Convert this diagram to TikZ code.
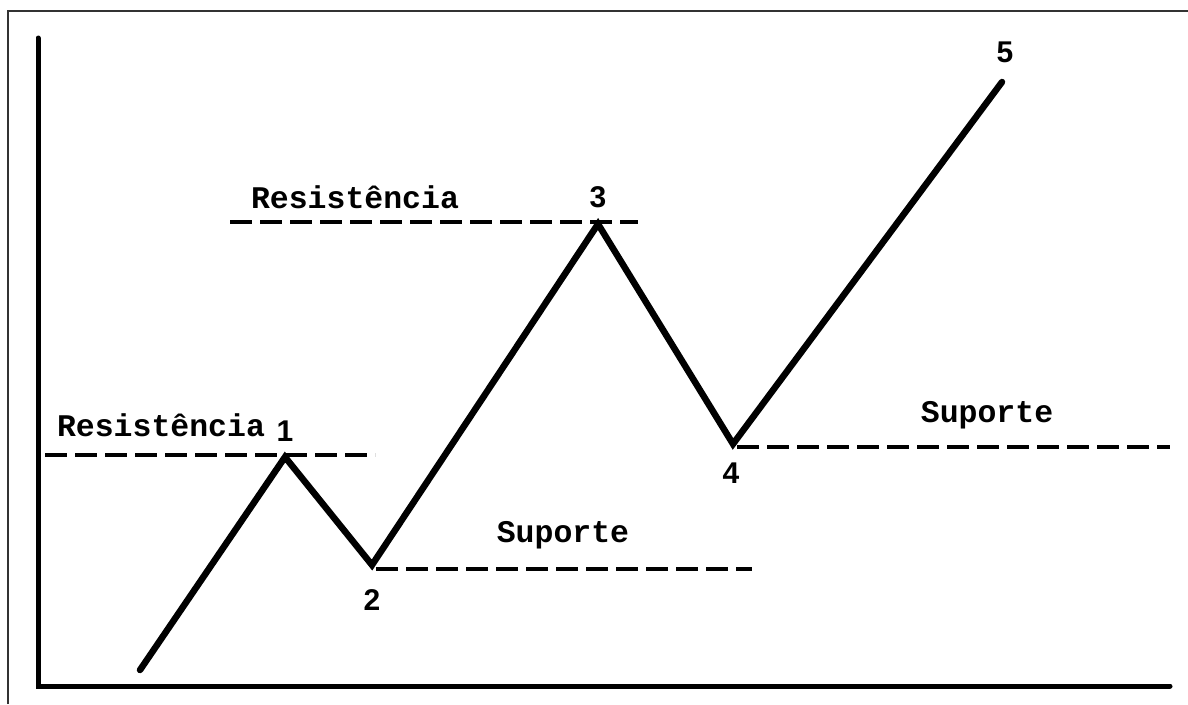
\documentclass[tikz,border=0pt]{standalone}
\usepackage{fontspec}
\newfontfamily\labelfont{Liberation Mono}
\newfontfamily\digitfont{Liberation Sans}
\begin{document}
\begin{tikzpicture}[x=1pt,y=-1pt,
  frame/.style={line width=2.2pt,draw=black!80},
  axis/.style={line width=5pt,line cap=round},
  price/.style={line width=6.5pt,line cap=round,line join=miter},
  level/.style={line width=4pt,dash pattern=on 22pt off 8pt},
  lbl/.style={font=\labelfont\bfseries\fontsize{31.5}{33}\selectfont,inner sep=0pt},
  num/.style={font=\digitfont\bfseries\fontsize{30}{32}\selectfont,inner sep=0pt}]
\useasboundingbox (0,0) rectangle (1188,704);
% outer frame
\coordinate (fbl) at (8,704);
\coordinate (ftl) at (8,11);
\coordinate (ftr) at (1188,11);
\draw[frame] (fbl) -- (ftl) -- (ftr);
% axes
\coordinate (ytop) at (38,38);
\coordinate (orig) at (38,686);
\coordinate (xend) at (1170,686);
\draw[axis] (ytop) -- (orig) -- (xend);
% price points
\coordinate (p0) at (140,670);
\coordinate (p1) at (285,457);
\coordinate (p2) at (372,565);
\coordinate (p3) at (598,224);
\coordinate (p4) at (733,444);
\coordinate (p5) at (1002,82);
% levels
\coordinate (r1a) at (45,455);
\coordinate (r1b) at (375,455);
\coordinate (r3a) at (230,222);
\coordinate (r3b) at (638,222);
\coordinate (s2a) at (376,569);
\coordinate (s2b) at (752,569);
\coordinate (s4a) at (737,447);
\coordinate (s4b) at (1170,447);
\draw[level] (r1a) -- (r1b);
\draw[level] (r3a) -- (r3b);
\draw[level] (s2a) -- (s2b);
\draw[level] (s4a) -- (s4b);
\draw[price] (p0) -- (p1) -- (p2) -- (p3) -- (p4) -- (p5);
% labels
\node[lbl] (tr1) at (161,425) {Resistência};
\node[lbl] (tr3) at (355,197) {Resistência};
\node[lbl] (ts2) at (563,535) {Suporte};
\node[lbl] (ts4) at (987,415) {Suporte};
\node[num] (n1) at (285,431) {1};
\node[num] (n2) at (372,600) {2};
\node[num] (n3) at (598,197) {3};
\node[num] (n4) at (731,473) {4};
\node[num] (n5) at (1005,52) {5};
\end{tikzpicture}
\end{document}
